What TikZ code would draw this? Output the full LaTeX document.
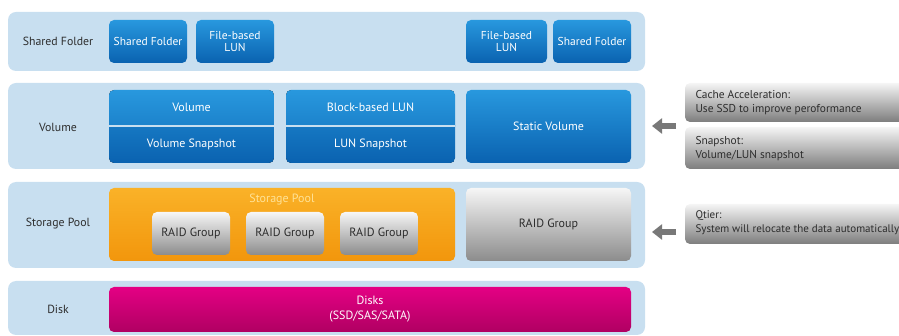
\documentclass[tikz,border=0pt]{standalone}
\usepackage{fontspec}
\setmainfont{PT Sans}
\usetikzlibrary{arrows.meta}

\begin{document}
\begin{tikzpicture}
		[x=1pt,y=-1pt,line cap=round,
		%Styles
		band/.style={rounded corners=8,left color=bandblue,middle color=bandwhite,right color=bandblue,minimum width=637},
		layer label/.style={text=labelgray,font=\fontsize{11.8}{13}\selectfont},
		blue box/.style={rounded corners=5,top color=blueA,bottom color=blueB,text=white,align=center,inner sep=0pt,font=\fontsize{11.5}{11.5}\selectfont},
		raid box/.style={rounded corners=5,top color=raidA,bottom color=raidB,text=labelgray,inner sep=0pt,font=\fontsize{12}{13}\selectfont},
		info box/.style={rounded corners=5,top color=infoA,bottom color=infoB,minimum width=220,inner sep=0pt},
		info text/.style={anchor=west,align=left,text=labelgray,font=\fontsize{11.4}{14.5}\selectfont},
		side arrow/.style={draw=arrowgray,line width=6,line cap=butt,-{Triangle[length=10pt,width=15pt]}}
		]
		
		%Colors
		\definecolor{bandblue}{RGB}{200,223,240}
		\definecolor{bandwhite}{RGB}{246,250,253}
		\definecolor{labelgray}{RGB}{45,45,45}
		\definecolor{blueA}{RGB}{40,152,222}
		\definecolor{blueB}{RGB}{10,98,176}
		\definecolor{raidA}{RGB}{246,246,246}
		\definecolor{raidB}{RGB}{140,140,140}
		\definecolor{infoA}{RGB}{245,245,245}
		\definecolor{infoB}{RGB}{125,125,125}
		\definecolor{arrowgray}{RGB}{120,120,120}
		\definecolor{poolA}{RGB}{250,178,40}
		\definecolor{poolB}{RGB}{242,150,12}
		\definecolor{diskA}{RGB}{228,0,132}
		\definecolor{diskB}{RGB}{176,0,98}
		
		\clip (0,0) rectangle (899,336);
		
		%The layers
		\node[band,minimum height=59] (sfband) at (326.5,41.5) {};
		\node[band,minimum height=86] (volband) at (326.5,126) {};
		\node[band,minimum height=86] (poolband) at (326.5,225) {};
		\node[band,minimum height=54] (diskband) at (326.5,308) {};
		
		\node[layer label] (sflabel) at (58,41.5) {Shared Folder};
		\node[layer label] (vollabel) at (58,127) {Volume};
		\node[layer label] (poollabel) at (58,224) {Storage Pool};
		\node[layer label] (disklabel) at (58,309) {Disk};
		
		%Shared folder row
		\node[blue box,minimum width=78,minimum height=43] (sf1) at (148,41.5) {Shared Folder};
		\node[blue box,minimum width=78,minimum height=43] (flun1) at (235,41.5) {File-based\\LUN};
		\node[blue box,minimum width=81,minimum height=43] (flun2) at (506.5,41.5) {File-based\\LUN};
		\node[blue box,minimum width=78,minimum height=43] (sf2) at (592,41.5) {Shared Folder};
		
		%Volume row
		\begin{scope}
			\clip[rounded corners=5] (109,90) rectangle (274,163);
			\fill[top color=blueA,bottom color=blueA!60!blueB] (109,90) rectangle (274,126);
			\fill[top color=blueA!40!blueB,bottom color=blueB] (109,126) rectangle (274,163);
			\draw[bandblue,line width=1.5] (109,126) -- (274,126);
		\end{scope}
		\begin{scope}
			\clip[rounded corners=5] (286,90) rectangle (455,163);
			\fill[top color=blueA,bottom color=blueA!60!blueB] (286,90) rectangle (455,126);
			\fill[top color=blueA!40!blueB,bottom color=blueB] (286,126) rectangle (455,163);
			\draw[bandblue,line width=1.5] (286,126) -- (455,126);
		\end{scope}
		\node[text=white,font=\fontsize{12}{13}\selectfont] (vol) at (191.5,107) {Volume};
		\node[text=white,font=\fontsize{12}{13}\selectfont] (volsnap) at (191.5,144.5) {Volume Snapshot};
		\node[text=white,font=\fontsize{12}{13}\selectfont] (blun) at (370.5,107) {Block-based LUN};
		\node[text=white,font=\fontsize{12}{13}\selectfont] (lunsnap) at (370.5,144.5) {LUN Snapshot};
		\node[blue box,minimum width=165,minimum height=73,font=\fontsize{12}{13}\selectfont] (static) at (548.5,126.5) {Static Volume};
		
		%Storage pool row
		\node[rounded corners=5,top color=poolA,bottom color=poolB,minimum width=346,minimum height=73] (pool) at (282,224.5) {};
		\node[text={rgb,255:red,255;green,226;blue,150},font=\fontsize{12}{13}\selectfont] (pooltitle) at (282,200) {Storage Pool};
		\node[raid box,minimum width=78,minimum height=43] (raid1) at (191,233.5) {RAID Group};
		\node[raid box,minimum width=78,minimum height=43] (raid2) at (285,233.5) {RAID Group};
		\node[raid box,minimum width=78,minimum height=43] (raid3) at (379,233.5) {RAID Group};
		\node[raid box,minimum width=165,minimum height=73] (raid4) at (548.5,224.5) {RAID Group};
		
		%Disk row
		\node[rounded corners=5,top color=diskA,bottom color=diskB,minimum width=522,minimum height=45,text=white,align=center,font=\fontsize{12}{15}\selectfont] (disks) at (370,309.5) {Disks\\(SSD/SAS/SATA)};
		
		%Side notes
		\node[info box,minimum height=39] (cache) at (795,102.5) {};
		\node[info box,minimum height=42] (snap) at (795,148) {};
		\node[info box,minimum height=40] (qtier) at (795,224) {};
		\node[info text] (cachetext) at (692,102.5) {Cache Acceleration:\\Use SSD to improve peroformance};
		\node[info text] (snaptext) at (692,148.5) {Snapshot:\\Volume/LUN snapshot};
		\node[info text,font=\fontsize{11}{14}\selectfont] (qtiertext) at (692,223) {Qtier:\\System will relocate the data automatically};
		
		\coordinate (a1s) at (676,126);
		\coordinate (a1e) at (652,126);
		\coordinate (a2s) at (676,232);
		\coordinate (a2e) at (652,232);
		\draw[side arrow] (a1s) -- (a1e);
		\draw[side arrow] (a2s) -- (a2e);
	\end{tikzpicture}
\end{document}
